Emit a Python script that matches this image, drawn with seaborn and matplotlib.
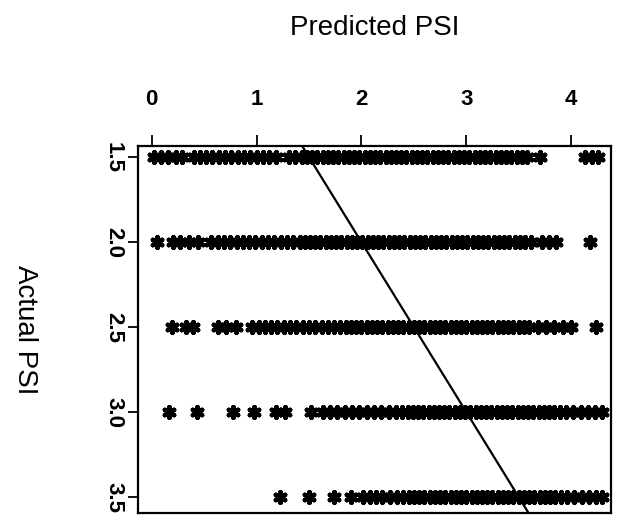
import pandas as pd
import matplotlib
matplotlib.use("Agg")
import matplotlib.pyplot as plt
import seaborn as sns

# ---- data ----
actual_levels = [1.5, 2.0, 2.5, 3.0, 3.5]

pred_15 = [0.02, 0.09, 0.16, 0.23, 0.29,
           0.40, 0.46, 0.52, 0.58, 0.64, 0.70, 0.76, 0.82, 0.88, 0.94, 1.00, 1.06, 1.12, 1.19,
           1.31, 1.37, 1.43, 1.48, 1.53, 1.58, 1.63, 1.68, 1.73, 1.78, 1.83, 1.88, 1.93, 1.98,
           2.03, 2.08, 2.13, 2.18, 2.23, 2.28, 2.33, 2.38, 2.43, 2.48, 2.53, 2.58, 2.63, 2.68,
           2.73, 2.78, 2.83, 2.88, 2.93, 2.98, 3.03, 3.08, 3.13, 3.18, 3.23, 3.28, 3.33, 3.38,
           3.43, 3.48, 3.53, 3.58, 3.70, 4.13, 4.20, 4.26]

pred_20 = [0.05, 0.20, 0.27, 0.36, 0.44,
           0.57, 0.63, 0.69, 0.75, 0.81, 0.87, 0.93, 0.99, 1.05, 1.11, 1.17, 1.23, 1.29, 1.35,
           1.41, 1.46, 1.51, 1.56, 1.61, 1.66, 1.71, 1.76, 1.81, 1.86, 1.91, 1.96, 2.01, 2.06,
           2.11, 2.16, 2.21, 2.26, 2.31, 2.36, 2.41, 2.46, 2.51, 2.56, 2.61, 2.66, 2.71, 2.76,
           2.81, 2.86, 2.91, 2.96, 3.01, 3.06, 3.11, 3.16, 3.21, 3.26, 3.31, 3.36, 3.41, 3.46,
           3.51, 3.56, 3.62, 3.72, 3.79, 3.86, 4.18]

pred_25 = [0.19, 0.33, 0.39, 0.63, 0.71, 0.80,
           0.96, 1.02, 1.08, 1.14, 1.20, 1.26, 1.32, 1.38, 1.44, 1.50, 1.56, 1.62, 1.68, 1.74,
           1.80, 1.85, 1.90, 1.95, 2.00, 2.05, 2.10, 2.15, 2.20, 2.25, 2.30, 2.35, 2.40, 2.45,
           2.50, 2.55, 2.60, 2.65, 2.70, 2.75, 2.80, 2.85, 2.90, 2.95, 3.00, 3.05, 3.10, 3.15,
           3.20, 3.25, 3.30, 3.35, 3.40, 3.45, 3.50, 3.55, 3.60, 3.68, 3.76, 3.84, 3.92, 4.00,
           4.24]

pred_30 = [0.17, 0.43, 0.78, 0.98, 1.19, 1.27, 1.52, 1.63, 1.70, 1.77, 1.84, 1.91,
           1.98, 2.05, 2.12, 2.19, 2.26, 2.33, 2.39, 2.44, 2.49, 2.54, 2.59, 2.64, 2.69, 2.74,
           2.79, 2.84, 2.89, 2.94, 2.99, 3.04, 3.09, 3.14, 3.19, 3.24, 3.29, 3.34, 3.39, 3.44,
           3.49, 3.54, 3.59, 3.64, 3.69, 3.74, 3.79, 3.84, 3.89, 3.95, 4.02, 4.09, 4.16, 4.23,
           4.29]

pred_35 = [1.22, 1.50, 1.74, 1.90, 2.02, 2.08, 2.14, 2.20, 2.27, 2.34, 2.40, 2.45,
           2.50, 2.55, 2.60, 2.65, 2.70, 2.75, 2.80, 2.85, 2.90, 2.95, 3.00, 3.05, 3.10, 3.15,
           3.20, 3.25, 3.30, 3.35, 3.40, 3.45, 3.50, 3.55, 3.60, 3.65, 3.70, 3.75, 3.80, 3.85,
           3.90, 3.96, 4.03, 4.10, 4.17, 4.24, 4.29]

x_ticks = [0, 1, 2, 3, 4]
y_ticks = [1.5, 2.0, 2.5, 3.0, 3.5]
y_tick_labels = ["1.5", "2.0", "2.5", "3.0", "3.5"]
x_label = "Predicted PSI"
y_label = "Actual PSI"

rows = []
for lvl, preds in zip(actual_levels, [pred_15, pred_20, pred_25, pred_30, pred_35]):
    rows += [(p, lvl) for p in preds]
df = pd.DataFrame(rows, columns=["pred", "actual"])

# ---- style ----
sns.set_theme(style="white")
plt.rcParams["font.family"] = ["Liberation Sans", "DejaVu Sans"]

W, H = 617, 524
fig = plt.figure(figsize=(W / 100, H / 100), dpi=100)
left, right, top, bottom = 138, 611, 146, 513
ax = fig.add_axes([left / W, 1 - bottom / H, (right - left) / W, (bottom - top) / H])

sns.scatterplot(data=df, x="pred", y="actual", marker=(6, 2, 0), s=60,
                color="black", edgecolor="black", linewidth=3.2, ax=ax, zorder=3)
ax.axline((actual_levels[0], actual_levels[0]), slope=1, color="black", lw=1.6, zorder=4)

ax.set_xlim(-0.13, 4.38)
ax.set_ylim(3.594, 1.435)

ax.xaxis.tick_top()
ax.xaxis.set_label_position("top")
ax.set_xticks(x_ticks)
ax.set_xticklabels([str(t) for t in x_ticks], fontsize=16, fontweight="bold")
ax.set_yticks(y_ticks)
ax.set_yticklabels(y_tick_labels, fontsize=16, fontweight="bold", rotation=-90, va="center")

ax.tick_params(axis="x", direction="out", length=8, width=1.3, color="black",
               pad=18, labelcolor="black", top=True, bottom=False)
ax.tick_params(axis="y", direction="out", length=7, width=1.3, color="black",
               pad=3, labelcolor="black", left=True)

ax.set_xlabel(x_label, fontsize=20, color="black", va="center")
ax.xaxis.set_label_coords(0.5, (bottom - 28) / (bottom - top))
ax.set_ylabel(y_label, fontsize=20, color="black", rotation=-90, va="center", ha="center")
ax.yaxis.set_label_coords((25 - left) / (right - left), 0.5)

for sp in ax.spines.values():
    sp.set_color("black")
    sp.set_linewidth(1.6)
    sp.set_visible(True)

fig.savefig("out.png", dpi=100, facecolor="white")
